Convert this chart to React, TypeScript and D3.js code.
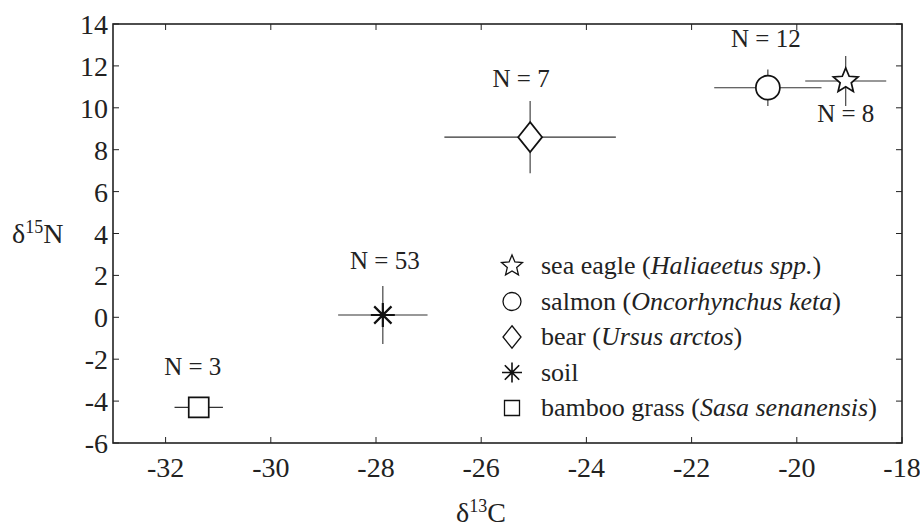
import * as d3 from 'd3';

// stable isotope means and SDs
const groups = ['sea eagle', 'salmon', 'bear', 'soil', 'bamboo grass'];
const latinNames = ['Haliaeetus spp.', 'Oncorhynchus keta', 'Ursus arctos', '', 'Sasa senanensis'];
const markers = ['star', 'circle', 'diamond', 'asterisk', 'square'];
const d13C = [-19.07, -20.55, -25.07, -27.87, -31.37];
const d13CErr = [0.77, 1.02, 1.63, 0.85, 0.46];
const d15N = [11.28, 10.96, 8.6, 0.11, -4.3];
const d15NErr = [1.19, 0.87, 1.73, 1.38, 0.3];
const sampleN = [8, 12, 7, 53, 3];

const xTicks = [-32, -30, -28, -26, -24, -22, -20, -18];
const yTicks = [-6, -4, -2, 0, 2, 4, 6, 8, 10, 12, 14];

// where each "N = " label sits relative to its point (px)
const labelOffset: Record<string, [number, number]> = {
  'sea eagle': [0, 41],
  salmon: [-2, -41],
  bear: [-9, -50],
  soil: [2, -46],
  'bamboo grass': [-6, -32],
};

const W = 920;
const H = 527;
const left = 113, right = 902, top = 24, bottom = 443;
const serif = { fontFamily: "'Liberation Serif', 'Times New Roman', Times, serif" };

function markerPath(kind: string, s: number) {
  if (kind === 'circle') {
    const p = d3.path();
    p.arc(0, 0, s, 0, Math.PI * 2);
    return p.toString();
  }
  if (kind === 'square') return `M${-s},${-s}H${s}V${s}H${-s}Z`;
  if (kind === 'diamond') return `M0,${-s * 1.25}L${s},0L0,${s * 1.25}L${-s},0Z`;
  if (kind === 'asterisk') {
    const d = s * 0.72;
    return `M${-s},0H${s}M0,${-s}V${s}M${-d},${-d}L${d},${d}M${-d},${d}L${d},${-d}`;
  }
  // five point star
  const pts: string[] = [];
  for (let i = 0; i < 10; i++) {
    const r = i % 2 === 0 ? s : s * 0.45;
    const a = -Math.PI / 2 + (i * Math.PI) / 5;
    pts.push(`${(r * Math.cos(a)).toFixed(2)},${(r * Math.sin(a)).toFixed(2)}`);
  }
  return 'M' + pts.join('L') + 'Z';
}

const plotSize: Record<string, number> = { star: 13, circle: 12, diamond: 12, asterisk: 12, square: 10 };
const legendSize: Record<string, number> = { star: 11, circle: 9, diamond: 9, asterisk: 10, square: 7.5 };

export default function App() {
  const x = d3.scaleLinear().domain([-33, -18]).range([left, right]);
  const y = d3.scaleLinear().domain([-6, 14]).range([bottom, top]);

  const legendX = 512;
  const legendY0 = 266;
  const legendStep = 35.5;

  return (
    <div style={{ position: 'absolute', left: 0, top: 0 }}>
      <svg width={W} height={H} style={{ display: 'block', background: '#fff', ...serif }}>
        {/* frame */}
        <rect x={left} y={top} width={right - left} height={bottom - top} fill="none" stroke="#222" strokeWidth={1.6} />

        {/* ticks, inward on all four sides */}
        {xTicks.map(t => (
          <g key={'x' + t}>
            <line x1={x(t)} x2={x(t)} y1={bottom} y2={bottom - 6} stroke="#222" strokeWidth={1} />
            <line x1={x(t)} x2={x(t)} y1={top} y2={top + 6} stroke="#222" strokeWidth={1} />
            <text x={x(t)} y={477} textAnchor="middle" fontSize={28} fill="#222" style={serif}>{t}</text>
          </g>
        ))}
        {yTicks.map(t => (
          <g key={'y' + t}>
            <line x1={left} x2={left + 6} y1={y(t)} y2={y(t)} stroke="#222" strokeWidth={1} />
            <line x1={right} x2={right - 6} y1={y(t)} y2={y(t)} stroke="#222" strokeWidth={1} />
            <text x={108} y={y(t) + 10} textAnchor="end" fontSize={28} fill="#222" style={serif}>{t}</text>
          </g>
        ))}

        {/* axis titles */}
        <text x={12} y={243} fontSize={28} fill="#222" style={serif}>
          δ<tspan fontSize={18} dy={-10}>15</tspan><tspan dy={10}>N</tspan>
        </text>
        <text x={456} y={522} fontSize={28} fill="#222" style={serif}>
          δ<tspan fontSize={18} dy={-10}>13</tspan><tspan dy={10}>C</tspan>
        </text>

        {/* error bars */}
        {groups.map((g, i) => (
          <g key={'e' + g} stroke="#333" strokeWidth={1.1}>
            <line x1={x(d13C[i] - d13CErr[i])} x2={x(d13C[i] + d13CErr[i])} y1={y(d15N[i])} y2={y(d15N[i])} />
            <line x1={x(d13C[i])} x2={x(d13C[i])} y1={y(d15N[i] - d15NErr[i])} y2={y(d15N[i] + d15NErr[i])} />
          </g>
        ))}

        {/* markers */}
        {groups.map((g, i) => (
          <path
            key={'m' + g}
            d={markerPath(markers[i], plotSize[markers[i]])}
            transform={`translate(${x(d13C[i])},${y(d15N[i])})`}
            fill={markers[i] === 'asterisk' ? 'none' : '#fff'}
            stroke="#111"
            strokeWidth={markers[i] === 'asterisk' ? 2.2 : 1.7}
          />
        ))}

        {/* sample sizes */}
        {groups.map((g, i) => (
          <text
            key={'n' + g}
            x={x(d13C[i]) + labelOffset[g][0]}
            y={y(d15N[i]) + labelOffset[g][1]}
            textAnchor="middle"
            fontSize={25}
            fill="#222"
            style={serif}
          >
            {`N = ${sampleN[i]}`}
          </text>
        ))}

        {/* legend */}
        {groups.map((g, i) => (
          <g key={'l' + g} transform={`translate(${legendX},${legendY0 + i * legendStep})`}>
            <path
              d={markerPath(markers[i], legendSize[markers[i]])}
              fill="none"
              stroke="#111"
              strokeWidth={markers[i] === 'asterisk' ? 1.6 : 1.3}
            />
            <text x={29} y={8} fontSize={26} fill="#222" style={serif}>
              {latinNames[i] ? (
                <>
                  {g} (<tspan fontStyle="italic">{latinNames[i]}</tspan>)
                </>
              ) : (
                g
              )}
            </text>
          </g>
        ))}
      </svg>
    </div>
  );
}
